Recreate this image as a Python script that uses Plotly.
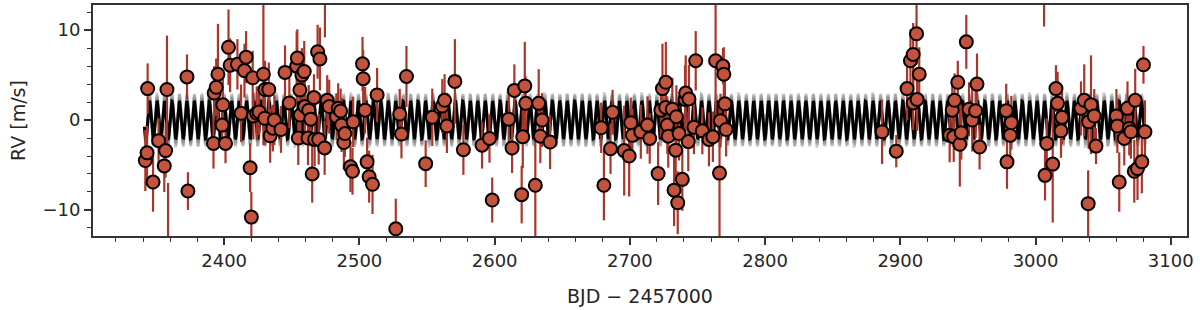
import numpy as np
import plotly.graph_objects as go

# ---------------- data ----------------
time_bjd = [
    2341.7, 2343.0, 2343.4, 2347.4, 2351.5, 2355.7, 2356.7, 2357.7, 2358.5, 2372.5,
    2373.2, 2392.1, 2392.6, 2394.1, 2395.4, 2398.5, 2399.0, 2401.0, 2403.2, 2404.4,
    2409.8, 2412.5, 2415.0, 2416.2, 2419.2, 2420.1, 2421.1, 2421.6, 2424.1, 2425.8,
    2429.0, 2430.0, 2430.2, 2433.0, 2434.0, 2436.0, 2437.1, 2442.0, 2445.0, 2448.2,
    2453.6, 2454.1, 2454.8, 2456.0, 2456.3, 2457.5, 2459.2, 2459.6, 2462.0, 2462.5,
    2464.0, 2465.1, 2466.4, 2466.9, 2469.1, 2469.9, 2470.8, 2474.3, 2474.5, 2476.2,
    2477.7, 2483.1, 2484.3, 2486.1, 2486.8, 2488.5, 2489.3, 2493.4, 2494.9, 2495.4,
    2502.3, 2502.8, 2504.2, 2505.7, 2507.2, 2509.7, 2513.1, 2526.9, 2529.8, 2531.1,
    2534.8, 2549.0, 2553.9, 2561.3, 2563.0, 2564.7, 2570.6, 2576.9, 2590.7, 2596.2,
    2598.2, 2610.4, 2612.9, 2614.6, 2620.0, 2620.8, 2622.3, 2623.0, 2630.1, 2632.6,
    2633.8, 2635.1, 2641.0, 2678.8, 2680.8, 2685.7, 2687.2, 2695.8, 2699.5, 2700.7,
    2701.9, 2708.1, 2713.0, 2714.7, 2720.9, 2722.9, 2724.1, 2726.6, 2726.5, 2727.7,
    2728.4, 2731.4, 2732.7, 2733.9, 2734.4, 2735.4, 2736.4, 2738.8, 2740.8, 2741.3,
    2743.2, 2743.7, 2747.4, 2748.7, 2753.6, 2758.5, 2761.4, 2763.4, 2766.3, 2767.0,
    2768.8, 2769.5, 2770.3, 2771.2, 2886.5, 2897.0, 2905.0, 2907.5, 2909.5, 2909.5,
    2912.0, 2912.4, 2914.0, 2936.5, 2938.4, 2939.5, 2940.1, 2942.5, 2944.0, 2945.1,
    2948.8, 2950.8, 2953.2, 2955.7, 2956.7, 2958.6, 2978.3, 2978.9, 2981.3, 2982.1,
    3006.3, 3007.0, 3008.3, 3012.7, 3015.1, 3016.3, 3018.8, 3019.6, 3033.6, 3036.0,
    3038.9, 3039.2, 3041.0, 3043.4, 3044.7, 3059.8, 3060.5, 3061.9, 3065.6, 3068.0,
    3069.3, 3070.5, 3073.0, 3073.7, 3075.4, 3078.6, 3079.8, 3080.9,
]
rv_ms = [
    -4.5, -3.65, 3.5, -6.9, -2.3, -5.1, -3.4, 3.4, -14.0, 4.8,
    -7.9, -2.6, 3.0, 3.65, 5.1, -0.56, 1.7, -2.6, 8.1, 6.1,
    6.2, 0.75, 5.5, 7.0, -5.3, -10.8, 4.7, 0.45, 0.75, 0.9,
    5.1, 0.2, 3.4, 3.4, -1.75, -0.9, 0.0, -1.05, 5.3, 1.9,
    6.0, 6.9, -2.0, 3.35, 0.56, 5.0, 5.4, 1.5, -2.0, 1.1,
    0.1, -6.0, 2.5, -2.15, 7.6, -2.15, 6.8, -3.1, 14.0, 2.2,
    1.5, 0.37, 1.3, 1.0, -0.56, -2.5, -1.5, -5.2, -5.7, -0.2,
    6.25, 4.6, 1.1, -4.65, -6.3, -7.15, 2.8, -12.1, 0.67, -1.56,
    4.85, -4.85, 0.3, 1.56, 2.2, -0.67, 4.3, -3.3, -2.8, -2.05,
    -8.9, 0.1, -3.1, 3.3, -8.3, -1.86, 3.8, 1.86, -7.26, 1.86,
    -1.8, 0.0, -2.45, -0.86, -7.26, -3.2, 0.86, -3.4, -4.0, -0.3,
    -1.7, -1.3, -0.56, -2.05, -5.96, 1.1, 3.5, 4.2, 1.4, -0.56,
    -1.8, 1.2, -7.8, -3.35, 0.37, -9.2, -1.5, -6.6, 2.3, 3.0,
    -2.4, 2.35, -0.8, 6.6, -1.2, -2.15, -1.86, 6.6, -5.9, -0.07,
    6.0, 5.1, 1.8, -1.05, -1.3, -3.46, 3.5, 6.6, 7.3, 1.9,
    9.6, 2.3, 5.1, -1.7, 1.1, -1.86, 2.2, 4.2, -2.7, -1.4,
    8.7, 1.2, 0.0, 1.04, 4.0, -3.0, 1.04, -4.65, -1.7, -0.3,
    14.0, -6.15, -2.6, -4.9, 3.5, 1.86, -1.2, 0.3, 1.3, 2.2,
    -9.3, -0.2, 1.7, 0.45, -2.9, 0.45, -0.67, -6.9, -2.05, 1.3,
    -0.93, -1.3, -5.7, 2.2, -5.4, -4.65, 6.15, -1.3,
]
rv_err_ms = [
    3.4, 3.0, 2.8, 3.3, 2.5, 2.9, 3.0, 6.0, 7.0, 2.5,
    2.1, 2.8, 3.0, 3.2, 5.6, 2.6, 3.0, 2.2, 4.2, 3.0,
    2.8, 3.2, 3.0, 2.9, 2.7, 2.8, 3.0, 2.6, 3.0, 2.6,
    7.9, 3.0, 3.2, 3.0, 3.0, 2.6, 2.8, 2.6, 3.0, 2.8,
    3.9, 3.2, 3.0, 3.0, 3.0, 3.0, 3.4, 2.8, 3.0, 2.8,
    3.0, 3.2, 2.6, 3.0, 3.0, 2.8, 3.5, 3.0, 4.8, 2.8,
    3.0, 2.6, 2.8, 2.5, 3.0, 3.0, 2.6, 2.8, 2.6, 2.8,
    3.0, 3.2, 2.6, 2.7, 2.9, 3.3, 3.0, 3.35, 2.8, 2.7,
    3.4, 2.6, 3.2, 3.0, 2.9, 3.0, 4.7, 2.8, 2.6, 2.7,
    2.5, 3.5, 2.8, 2.9, 3.2, 3.5, 4.9, 3.0, 5.8, 3.8,
    3.0, 3.0, 3.0, 2.8, 3.9, 2.8, 2.5, 5.0, 4.5, 2.8,
    3.0, 3.0, 3.2, 2.8, 3.5, 3.0, 5.0, 4.5, 3.0, 3.2,
    3.5, 3.5, 4.0, 3.5, 3.5, 3.5, 3.0, 3.5, 3.8, 4.2,
    3.3, 3.8, 3.0, 3.3, 2.6, 3.0, 2.8, 6.5, 7.2, 3.0,
    2.0, 3.0, 3.2, 3.0, 3.6, 1.8, 3.5, 3.5, 3.5, 3.0,
    3.4, 3.5, 3.0, 3.0, 3.0, 2.8, 3.0, 2.4, 4.7, 3.0,
    3.0, 3.0, 3.5, 3.0, 3.4, 2.5, 3.0, 3.0, 3.0, 3.0,
    3.6, 2.8, 2.8, 6.5, 2.6, 3.5, 3.0, 3.0, 3.0, 4.0,
    3.7, 3.0, 5.5, 3.0, 2.0, 3.0, 3.0, 3.3, 3.0, 3.0,
    3.0, 3.0, 3.5, 3.5, 3.5, 3.5, 2.1, 3.5,
]

# circular-orbit model (period, epoch of maximum, semi-amplitude)
model_period_d = 5.515
model_t_peak = 2780.5
model_k_ms = 2.1
model_t_start, model_t_end = 2341.0, 3081.0
# posterior draws (semi-amplitude, phase shift in days)
draw_k_ms = [2.2, 2.45, 2.7, 2.9]
draw_shift_d = [0.08, -0.08, 0.05, -0.04]

# ---------------- figure ----------------
fig = go.Figure()
t_model = np.linspace(model_t_start, model_t_end, 8000)
for k, s in zip(draw_k_ms, draw_shift_d):
    fig.add_trace(go.Scatter(
        x=t_model, y=k * np.cos(2 * np.pi * (t_model - model_t_peak - s) / model_period_d),
        mode="lines", line=dict(color="rgba(120,120,120,0.4)", width=3),
        hoverinfo="skip", showlegend=False))
fig.add_trace(go.Scatter(
    x=t_model, y=model_k_ms * np.cos(2 * np.pi * (t_model - model_t_peak) / model_period_d),
    mode="lines", line=dict(color="black", width=3), showlegend=False))

fig.add_trace(go.Scatter(
    x=time_bjd, y=rv_ms, mode="markers",
    error_y=dict(type="data", array=rv_err_ms, visible=True,
                 color="#a9362a", thickness=2.2, width=0),
    marker=dict(size=13, color="#c4533d", line=dict(color="black", width=2)),
    showlegend=False))

axis_col = "#333333"
font_col = "#262626"
fig.update_layout(
    width=1200, height=310,
    margin=dict(l=93, r=13, t=5, b=74),
    plot_bgcolor="white", paper_bgcolor="white",
    font=dict(family="DejaVu Sans", size=18, color=font_col),
)
fig.update_xaxes(
    range=[2303, 3112], dtick=100, tick0=0, automargin=False,
    showline=True, mirror=True, linewidth=2, linecolor=axis_col,
    ticks="outside", ticklen=7, tickwidth=1.5, tickcolor=axis_col,
    showgrid=False, zeroline=False,
    minor=dict(dtick=20, tick0=0, ticks="outside", ticklen=4, tickwidth=1.2,
               tickcolor=axis_col, showgrid=False),
    title=dict(text="BJD − 2457000", font=dict(size=19), standoff=20),
)
fig.update_yaxes(
    range=[-12.9, 12.8], dtick=10, tick0=0, automargin=False,
    showline=True, mirror=True, linewidth=2, linecolor=axis_col,
    ticks="outside", ticklen=7, tickwidth=1.5, tickcolor=axis_col,
    showgrid=False, zeroline=False,
    minor=dict(dtick=2, tick0=0, ticks="outside", ticklen=4, tickwidth=1.2,
               tickcolor=axis_col, showgrid=False),
    title=dict(text="RV [m/s]", font=dict(size=19), standoff=12),
)

fig.write_html("out.html", config={"displayModeBar": False},
               post_script="document.body.style.margin='0';")
